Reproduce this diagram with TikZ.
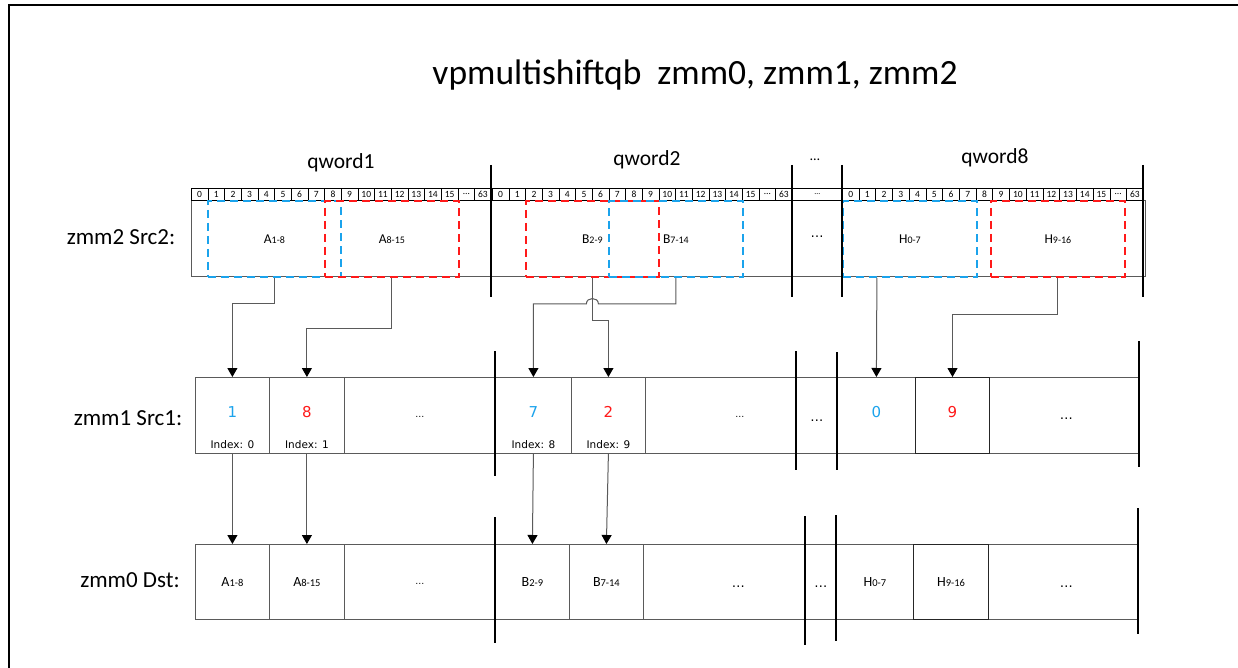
\documentclass[tikz,border=0pt]{standalone}
\usepackage{fontspec}
\setmainfont{Carlito}
\newfontfamily\djv{DejaVu Sans}
\usetikzlibrary{arrows.meta,calc}
\definecolor{cblue}{HTML}{1BA3EC}
\definecolor{cred}{HTML}{FF1A1A}
\definecolor{cgray}{HTML}{5A5A5A}
\newcommand\mylab[2]{#1{\fontsize{10}{10}\selectfont #2}}
\newcommand\mylabb[2]{#1{\fontsize{10.5}{11}\selectfont #2}}
\newcommand\drawruler[3]{%
  \foreach \lab [count=\i from 0] in {0,1,2,3,4,5,6,7,8,9,10,11,12,13,14,15,…,63} {
    \node[rcell, minimum width=#3pt] (#1\i) at ({#2+\i*#3},188) {\lab};
  }}
\begin{document}
\begin{tikzpicture}[x=1pt,y=-1pt,
  rcell/.style={draw=black, line width=0.6pt, anchor=north west, minimum height=12pt, inner sep=0pt, font=\fontsize{9.5}{9.5}\selectfont},
  bigbox/.style={draw=cgray, line width=0.8pt, anchor=north west, inner sep=0pt, minimum height=76pt},
  cell/.style={draw=cgray, line width=0.8pt, anchor=north west, inner sep=0pt, minimum height=76pt},
  dcell/.style={draw=cgray, line width=0.8pt, anchor=north west, inner sep=0pt, minimum height=75pt, font=\fontsize{14}{14}\selectfont},
  darkcell/.style={draw=black!85, line width=1pt},
  dashblk/.style={line width=1.8pt, dash pattern=on 8pt off 5pt, inner sep=0pt, anchor=north west, minimum height=76pt, font=\fontsize{13.5}{13.5}\selectfont},
  blk/.style={dashblk, draw=cblue},
  rblk/.style={dashblk, draw=cred},
  sep/.style={line width=1.8pt, black},
  conn/.style={draw=cgray, line width=1pt, -{Triangle[width=10pt,length=9pt,color=black]}},
  rowlab/.style={font=\fontsize{23}{23}\selectfont},
  qlab/.style={font=\fontsize{21.5}{21.5}\selectfont},
  num/.style={font=\djv\fontsize{15}{15}\selectfont},
  idx/.style={font=\djv\fontsize{10.5}{10.5}\selectfont},
  sdots/.style={font=\djv\fontsize{9}{9}\selectfont},
  bdots/.style={font=\djv\fontsize{13}{13}\selectfont}
]
\useasboundingbox (0,0) rectangle (1238,668);
\fill[white] (0,0) rectangle (1238,668);
% frame
\draw[line width=2pt] (9,668) -- (9,5) -- (1238,5);
% title
\node[font=\fontsize{35.5}{40}\selectfont] (title) at (695,75) {vpmultishiftqb\ \ zmm0, zmm1, zmm2};
% qword labels
\node[qlab] (q1) at (341,163) {qword1};
\node[qlab] (q2) at (647,160) {qword2};
\node[font=\fontsize{14}{14}\selectfont] (qd) at (815,160) {…};
\node[qlab] (q8) at (995,158) {qword8};
% row labels
\node[rowlab] (l2) at (121,237) {zmm2 Src2:};
\node[rowlab] (l1) at (128,418) {zmm1 Src1:};
\node[rowlab] (l0) at (130,580) {zmm0 Dst:};
% ===== zmm2 Src2 =====
\node[bigbox, minimum width=954pt] (src2) at (191,200) {};
\drawruler{ra}{191}{16.667}
\drawruler{rb}{492}{16.667}
\node[rcell, minimum width=50pt, font=\fontsize{8}{8}\selectfont] (rdots) at (792,188) {…};
\drawruler{rc}{842}{16.72}
\node[bdots] (s2dots) at (817,237) {…};
% dashed blocks
\node[blk, minimum width=133pt] (A18) at (207,200) {\mylab{A}{1-8}};
\node[rblk, minimum width=134pt] (A815) at (324,200) {\mylab{A}{8-15}};
\node[rblk, minimum width=133pt] (B29) at (525,200) {\mylab{B}{2-9}};
\node[blk, minimum width=134pt] (B714) at (608,200) {\mylab{B}{7-14}};
\node[blk, minimum width=134pt] (H07) at (842,200) {\mylab{H}{0-7}};
\node[rblk, minimum width=134pt] (H916) at (990,200) {\mylab{H}{9-16}};
% separators
\draw[sep] (491,165) -- (491,297);
\draw[sep] (792,165) -- (792,297);
\draw[sep] (842,165) -- (842,297);
\draw[sep] (1143,165) -- (1143,297);
% ===== zmm1 Src1 =====
\node[cell, minimum width=74pt] (s1c0) at (195,377) {};
\node[cell, minimum width=75pt] (s1c1) at (269,377) {};
\node[cell, minimum width=151pt] (s1e1) at (344,377) {};
\node[cell, minimum width=76pt] (s1c8) at (495,377) {};
\node[cell, minimum width=74pt] (s1c9) at (571,377) {};
\node[cell, minimum width=151pt] (s1e2) at (645,377) {};
\node[cell, minimum width=41pt] (s1e3) at (796,377) {};
\node[cell, minimum width=78pt] (s1h0) at (837,377) {};
\node[cell, minimum width=150pt] (s1e4) at (989,377) {};
\node[cell, darkcell, minimum width=74pt] (s1h9) at (915,377) {};
\node[num, text=cblue] (n0) at ($(s1c0.center)+(0,-3)$) {1};
\node[num, text=cred] (n1) at ($(s1c1.center)+(0,-3)$) {8};
\node[num, text=cblue] (n8) at ($(s1c8.center)+(0,-3)$) {7};
\node[num, text=cred] (n9) at ($(s1c9.center)+(0,-3)$) {2};
\node[num, text=cblue] (nh0) at ($(s1h0.center)+(0,-3)$) {0};
\node[num, text=cred] (nh9) at ($(s1h9.center)+(0,-3)$) {9};
\node[idx] (i0) at ($(s1c0.south)+(0,-9)$) {Index: 0};
\node[idx] (i1) at ($(s1c1.south)+(0,-9)$) {Index: 1};
\node[idx] (i8) at ($(s1c8.south)+(0,-9)$) {Index: 8};
\node[idx] (i9) at ($(s1c9.south)+(0,-9)$) {Index: 9};
\node[sdots] (t1) at ($(s1e1.center)+(0,2)$) {…};
\node[sdots] (t2) at ($(s1e2.center)+(19,2)$) {…};
\node[bdots] (t3) at ($(s1e3.center)+(0,5)$) {…};
\node[bdots] (t4) at ($(s1e4.center)+(2,3)$) {…};
\draw[sep] (495,351) -- (495,476);
\draw[sep] (796,351) -- (796,470);
\draw[sep] (837,352) -- (837,470);
\draw[sep] (1139,341) -- (1139,467);
% ===== zmm0 Dst =====
\node[dcell, minimum width=74pt] (d0) at (195,544) {\mylabb{A}{1-8}};
\node[dcell, minimum width=75pt] (d1) at (269,544) {\mylabb{A}{8-15}};
\node[dcell, minimum width=151pt] (de1) at (344,544) {};
\node[dcell, minimum width=74pt] (d8) at (495,544) {\mylabb{B}{2-9}};
\node[dcell, minimum width=74pt] (d9) at (569,544) {\mylabb{B}{7-14}};
\node[dcell, minimum width=162pt] (de2) at (643,544) {};
\node[dcell, minimum width=31pt] (de3) at (805,544) {};
\node[dcell, minimum width=77pt] (dh0) at (836,544) {\mylabb{H}{0-7}};
\node[dcell, minimum width=150pt] (de4) at (988,544) {};
\node[dcell, darkcell, minimum width=75pt] (dh9) at (913,544) {\mylabb{H}{9-16}};
\node[sdots] (u1) at ($(de1.center)+(0,2)$) {…};
\node[bdots] (u2) at ($(de2.center)+(14,5)$) {…};
\node[bdots] (u3) at ($(de3.center)+(0,5)$) {…};
\node[bdots] (u4) at ($(de4.center)+(3,5)$) {…};
\draw[sep] (495,517) -- (495,643);
\draw[sep] (805,516) -- (805,645);
\draw[sep] (836,515) -- (836,641);
\draw[sep] (1138,508) -- (1138,634);
% ===== connectors =====
\draw[conn] (A18.south) -- ++(0,26) -| (s1c0.north);
\draw[conn] (A815.south) -- ++(0,51) -| (s1c1.north);
\draw[conn] (B714.south) -- ++(0,26) -- ($(B29.south)+(6,26)$)
   .. controls ($(B29.south)+(6,19)$) and ($(B29.south)+(-6,19)$) .. ($(B29.south)+(-6,26)$)
   -| (s1c8.north);
\draw[conn] (B29.south) -- ++(0,43) -| (s1c9.north);
\draw[conn] ($(H07.south)+(-33,0)$) -- (s1h0.north);
\draw[conn] (H916.south) -- ++(0,37) -| (s1h9.north);
\draw[conn] (s1c0.south) -- (d0.north);
\draw[conn] (s1c1.south) -- (d1.north);
\draw[conn] (s1c8.south) -- (d8.north);
\draw[conn] (s1c9.south) -- (d9.north);
\end{tikzpicture}
\end{document}
